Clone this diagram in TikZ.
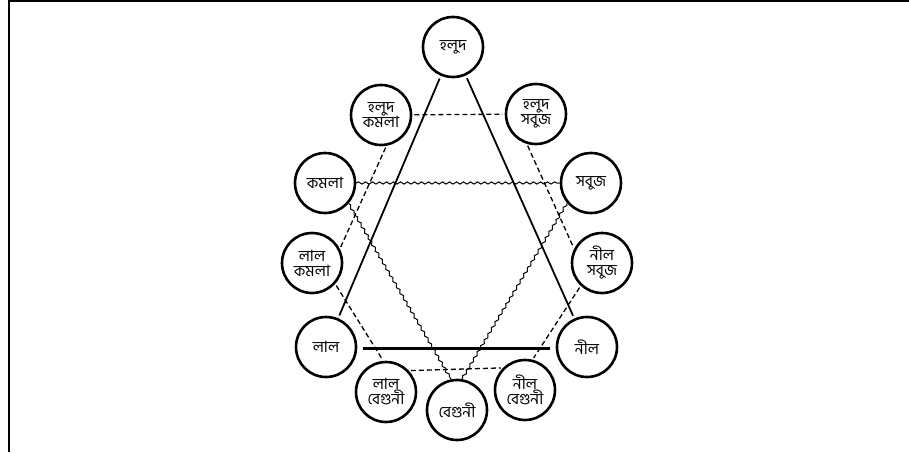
\documentclass[tikz,border=0pt]{standalone}
\usepackage{fontspec}
\newfontfamily\bn[Script=Bengali]{Hind Siliguri}
\usetikzlibrary{decorations.pathmorphing}
\begin{document}
\begin{tikzpicture}[x=1pt,y=-1pt,
 col/.style={circle,draw,line width=2.6pt,minimum size=60pt,inner sep=0pt,align=center,
   font=\bn\fontsize{15.5}{15}\selectfont},
 solidln/.style={line width=1.8pt,shorten <=3pt,shorten >=3pt},
 thickln/.style={line width=3pt,shorten <=6pt,shorten >=6pt},
 dashln/.style={line width=1.3pt,dash pattern=on 5pt off 3pt,shorten <=2pt,shorten >=2pt},
 wavyln/.style={line width=1pt,decorate,decoration={snake,amplitude=1.1pt,segment length=7pt}}]
\useasboundingbox (0,0) rectangle (909,452);
\draw[line width=2pt] (9,452) -- (9,1) -- (909,1);
\node[col] (hl) at (453,47) {হলুদ};
\node[col] (hk) at (381,115) {হলুদ\\কমলা};
\node[col] (hs) at (536,114) {হলুদ\\সবুজ};
\node[col] (km) at (325,183) {কমলা};
\node[col] (sb) at (591,183) {সবুজ};
\node[col] (lk) at (312,263) {লাল\\কমলা};
\node[col] (ns) at (602,263) {নীল\\সবুজ};
\node[col] (ll) at (326,347) {লাল};
\node[col] (nl) at (587,347) {নীল};
\node[col] (lb) at (386,392) {লাল\\বেগুনী};
\node[col] (nb) at (525,390) {নীল\\বেগুনী};
\node[col] (bg) at (457,410) {বেগুনী};
% solid triangle
\draw[solidln] (hl) -- (ll);
\draw[solidln] (hl) -- (nl);
\draw[thickln] (ll.-3) -- (nl.-177);
% dashed hexagon
\draw[dashln] (hk) -- (hs);
\draw[dashln] (hk.-80) -- (lk.27);
\draw[dashln] (hs.-107) -- (ns.153);
\draw[dashln] (ns.-133) -- (nb.76);
\draw[dashln] (lk.-42) -- (lb.95);
\draw[dashln] (lb.43) -- (nb.135);
% wavy triangle
\draw[wavyln] (km) -- (sb);
\draw[wavyln] (km.-41) -- (bg.101);
\draw[wavyln] (sb.-140) -- (bg.81);
\end{tikzpicture}
\end{document}
